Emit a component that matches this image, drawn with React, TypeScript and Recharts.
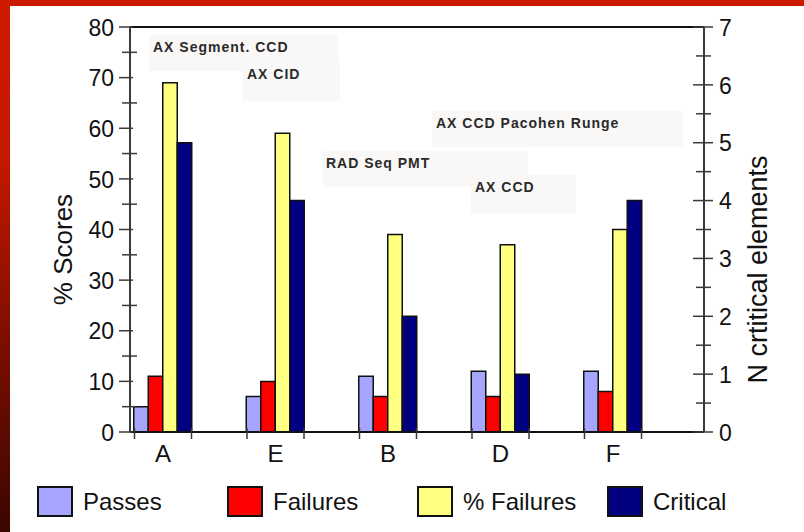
import { BarChart, Bar, XAxis, YAxis, ReferenceLine, Label } from "recharts";

const categories = ["A", "E", "B", "D", "F"];
const passes = [5, 7, 11, 12, 12];
const failures = [11, 10, 7, 7, 8];
const pctFailures = [69, 59, 39, 37, 40];
const critical = [5, 4, 2, 1, 4];

const scoreTicks = [0, 5, 10, 15, 20, 25, 30, 35, 40, 45, 50, 55, 60, 65, 70, 75, 80];
const criticalTicks = [0, 0.5, 1, 1.5, 2, 2.5, 3, 3.5, 4, 4.5, 5, 5.5, 6, 6.5, 7];

const notes = ["AX Segment. CCD", "AX CID", "AX CCD Pacohen Runge", "RAD Seq PMT", "AX CCD"];

const series = [
  { key: "passes", name: "Passes", color: "#a6a6ff", axis: "score" },
  { key: "failures", name: "Failures", color: "#ff0000", axis: "score" },
  { key: "pctFailures", name: "% Failures", color: "#ffff80", axis: "score" },
  { key: "critical", name: "Critical", color: "#000080", axis: "crit" },
];

const data = categories.map((name, i) => ({
  name,
  passes: passes[i],
  failures: failures[i],
  pctFailures: pctFailures[i],
  critical: critical[i],
}));

// where the floating note boxes sit (box, then text inset)
const noteBoxes = [
  { left: 149, top: 35, width: 189, height: 36 },
  { left: 243, top: 62, width: 97, height: 39 },
  { left: 432, top: 111, width: 251, height: 36 },
  { left: 322, top: 151, width: 206, height: 36 },
  { left: 471, top: 175, width: 105, height: 38 },
];

const FONT = '"Liberation Sans", Arial, sans-serif';
const AXIS = "#3a3a3a";

function ScoreTick({ x, y, payload }: any) {
  const major = payload.value % 10 === 0;
  return (
    <g>
      <line x1={x - (major ? 11 : 8)} x2={x + (major ? 3 : 7)} y1={y} y2={y} stroke={AXIS} strokeWidth={1.5} />
      {major && (
        <text x={x - 16} y={y} dy="0.38em" textAnchor="end" fontSize={23} fill="#111" fontFamily={FONT}>
          {payload.value}
        </text>
      )}
    </g>
  );
}

function CritTick({ x, y, payload }: any) {
  const major = Number.isInteger(payload.value);
  return (
    <g>
      <line x1={x - (major ? 11 : 8)} x2={x + (major ? 9 : 7)} y1={y} y2={y} stroke={AXIS} strokeWidth={1.5} />
      {major && (
        <text x={x + 15} y={y} dy="0.38em" textAnchor="start" fontSize={23} fill="#111" fontFamily={FONT}>
          {payload.value}
        </text>
      )}
    </g>
  );
}

function CatTick({ x, y, payload }: any) {
  return (
    <g>
      <line x1={x - 28.5} x2={x - 28.5} y1={y - 4} y2={y + 7} stroke={AXIS} strokeWidth={1.5} />
      <line x1={x + 28.5} x2={x + 28.5} y1={y - 4} y2={y + 7} stroke={AXIS} strokeWidth={1.5} />
      <text x={x} y={y + 30} textAnchor="middle" fontSize={24} fill="#111" fontFamily={FONT}>
        {payload.value}
      </text>
    </g>
  );
}

function AxisTitle({ viewBox, value, dx, dy, size }: any) {
  const cx = viewBox.x + dx;
  const cy = viewBox.y + viewBox.height / 2 + dy;
  return (
    <text
      x={cx}
      y={cy}
      transform={`rotate(-90 ${cx} ${cy})`}
      textAnchor="middle"
      dominantBaseline="central"
      fontSize={size}
      fill="#111"
      fontFamily={FONT}
    >
      {value}
    </text>
  );
}

export default function App() {
  return (
    <div
      style={{
        position: "absolute",
        top: 0,
        left: 0,
        width: 804,
        height: 532,
        background: "#fff",
        fontFamily: FONT,
        overflow: "hidden",
      }}
    >
      {/* red frame */}
      <div style={{ position: "absolute", top: 0, left: 0, width: 804, height: 6, background: "#cc1a00" }} />
      <div
        style={{
          position: "absolute",
          top: 0,
          left: 0,
          width: 10,
          height: 532,
          background: "linear-gradient(to bottom, #d01a00 0%, #c41800 30%, #7a0e00 65%, #3a0600 100%)",
        }}
      />

      {/* note boxes */}
      {notes.map((t, i) => (
        <div
          key={t + i}
          style={{
            position: "absolute",
            ...noteBoxes[i],
            background: "#f9f8f6",
            boxSizing: "border-box",
            paddingLeft: 4,
            paddingTop: 4,
            fontSize: 14,
            fontWeight: "bold",
            letterSpacing: 1,
            color: "#2a2a2a",
            whiteSpace: "nowrap",
          }}
        >
          {t}
        </div>
      ))}

      <div style={{ position: "absolute", top: 0, left: 0 }}>
        <BarChart
          width={804}
          height={532}
          data={data}
          margin={{ top: 27, right: 0, bottom: 0, left: 0 }}
          barGap={0}
          barSize={14.5}
        >
          <XAxis
            dataKey="name"
            height={100}
            padding={{ left: -23.25, right: 34.75 }}
            tickLine={false}
            tickSize={0}
            tickMargin={0}
            axisLine={{ stroke: "#111", strokeWidth: 2 }}
            tick={<CatTick />}
            interval={0}
          />
          <YAxis
            yAxisId="score"
            orientation="left"
            width={130}
            domain={[0, 80]}
            ticks={scoreTicks}
            interval={0}
            tickLine={false}
            tickSize={0}
            tickMargin={0}
            axisLine={{ stroke: AXIS, strokeWidth: 2 }}
            tick={<ScoreTick />}
          >
            <Label content={<AxisTitle value="% Scores" dx={63} dy={20} size={26} />} />
          </YAxis>
          <YAxis
            yAxisId="crit"
            orientation="right"
            width={100}
            domain={[0, 7]}
            ticks={criticalTicks}
            interval={0}
            tickLine={false}
            tickSize={0}
            tickMargin={0}
            axisLine={{ stroke: AXIS, strokeWidth: 2 }}
            tick={<CritTick />}
          >
            <Label content={<AxisTitle value="N crtitical elements" dx={54} dy={40} size={27} />} />
          </YAxis>
          <ReferenceLine yAxisId="score" y={80} stroke="#111" strokeWidth={2} />
          {series.map((s) => (
            <Bar
              key={s.key}
              dataKey={s.key}
              name={s.name}
              yAxisId={s.axis}
              fill={s.color}
              stroke="#111"
              strokeWidth={1.5}
              isAnimationActive={false}
            />
          ))}
        </BarChart>
      </div>

      {/* legend */}
      <div style={{ position: "absolute", top: 486, left: 37, display: "flex" }}>
        {series.map((s) => (
          <div key={s.key} style={{ width: 190, display: "flex", alignItems: "center" }}>
            <div
              style={{
                width: 36,
                height: 31,
                boxSizing: "border-box",
                border: "2px solid #111",
                background: s.color,
              }}
            />
            <span style={{ marginLeft: 10, fontSize: 24, color: "#111" }}>{s.name}</span>
          </div>
        ))}
      </div>
    </div>
  );
}
